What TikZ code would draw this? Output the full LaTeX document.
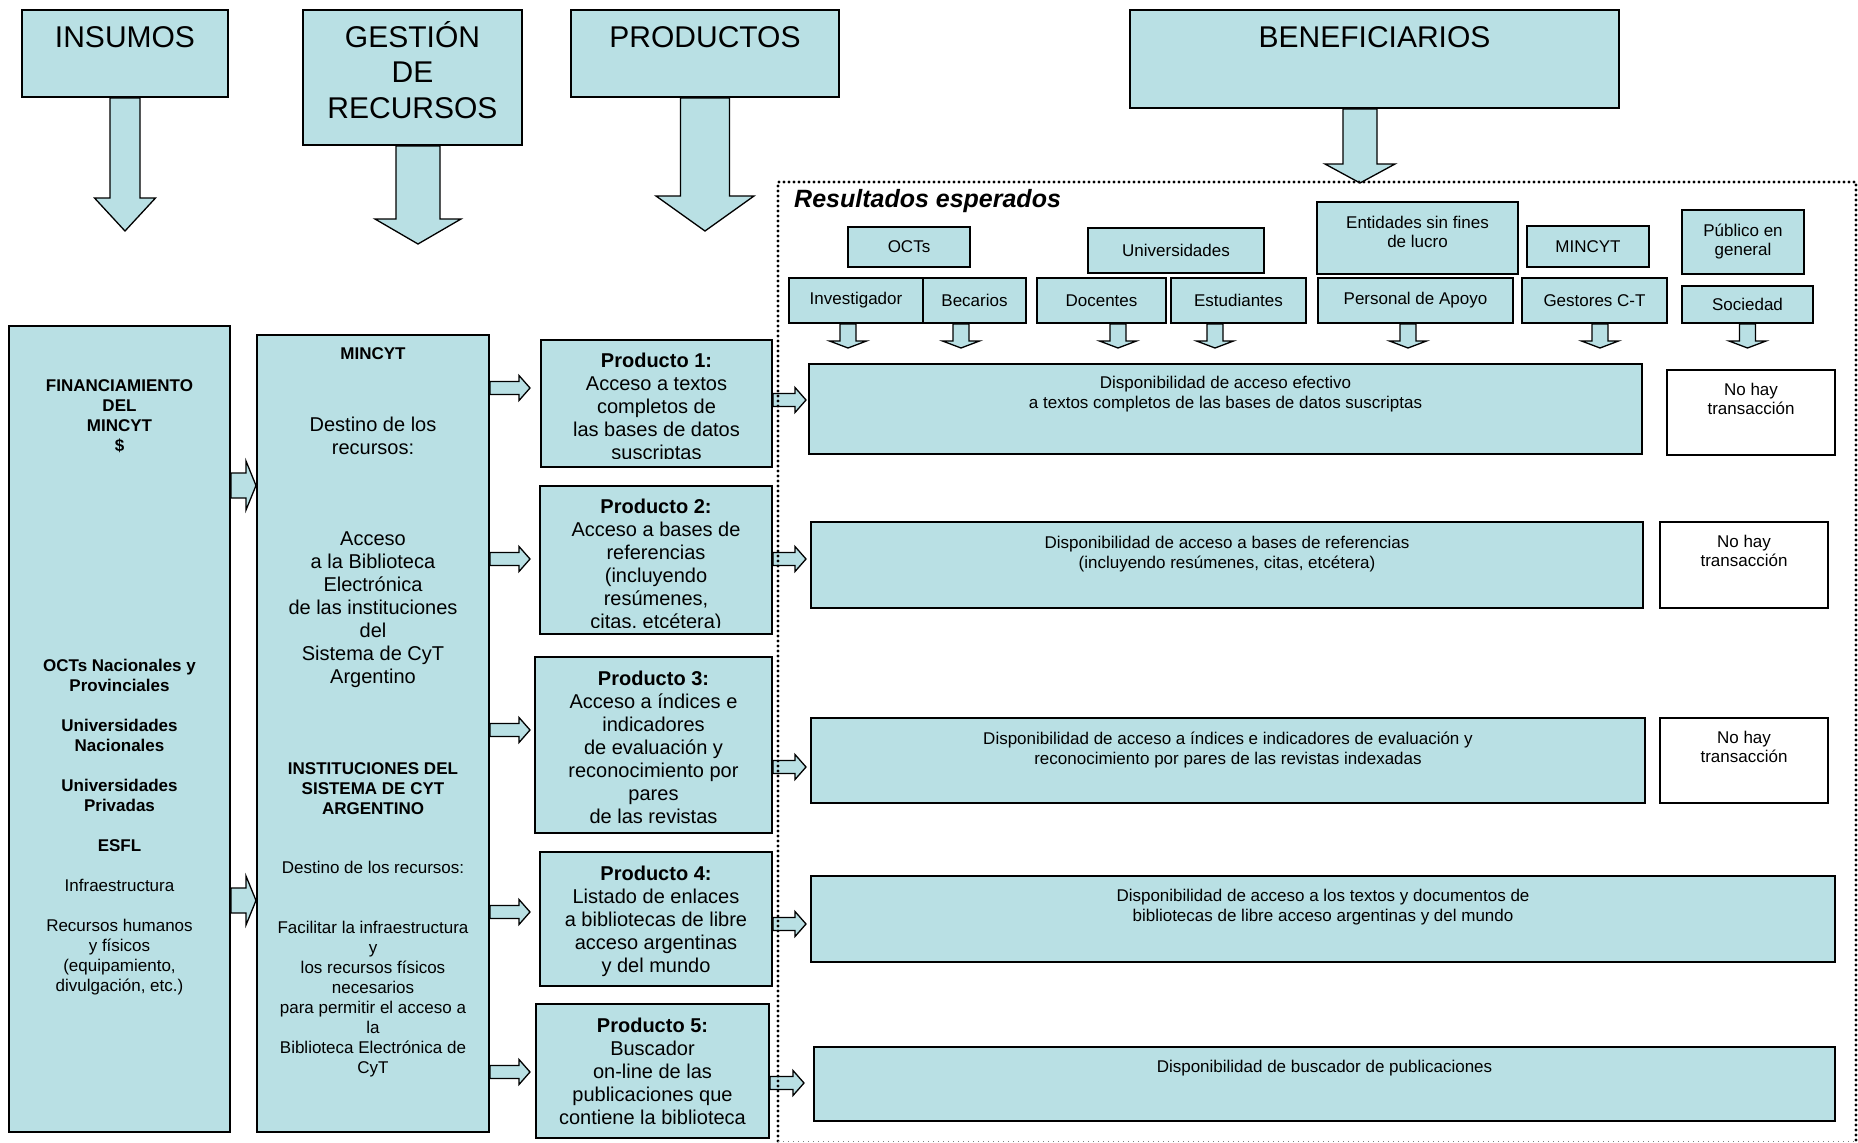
\documentclass[tikz,border=0pt]{standalone}
\usepackage{fontspec}
\setmainfont{Liberation Sans}
\usetikzlibrary{calc,positioning}

\definecolor{boxfill}{RGB}{185,224,228}

\tikzset{
  tealbox/.style={draw, line width=2pt, fill=boxfill, inner sep=0pt},
  whitebox/.style={draw, line width=2pt, fill=white, inner sep=0pt},
  blockarrow/.style={draw, line width=1.3pt, fill=boxfill},
  headtext/.style={font=\fontsize{30}{35.5}\selectfont, align=center, inner sep=0pt},
  bigtext/.style={font=\fontsize{20}{23}\selectfont, align=center, inner sep=0pt},
  smalltext/.style={font=\fontsize{17}{20}\selectfont, align=center, inner sep=0pt},
  boldtext/.style={font=\fontsize{17}{20}\selectfont\bfseries, align=center, inner sep=0pt},
  benef/.style={tealbox, font=\fontsize{17}{19}\selectfont, align=center},
}

%% fat arrows: start, length, half shaft, half head, head length
\newcommand{\downblock}[5]{\filldraw[blockarrow] ($(#1)+(-#3,0)$) -- ++(0,{#2-#5}) -- ++({#3-#4},0) -- ++(#4,#5) -- ++(#4,-#5) -- ++({#3-#4},0) -- ++(0,{#5-#2}) -- cycle;}
\newcommand{\rightblock}[5]{\filldraw[blockarrow] ($(#1)+(0,-#3)$) -- ++({#2-#5},0) -- ++(0,{#3-#4}) -- ++(#5,#4) -- ++(-#5,#4) -- ++(0,{#3-#4}) -- ++({#5-#2},0) -- cycle;}

\begin{document}
\begin{tikzpicture}[x=1pt,y=-1pt]
\useasboundingbox (0,0) rectangle (1858,1143);

%% headers
\node[tealbox, minimum width=206, minimum height=87] (insumos) at (125,53.5) {};
\node[tealbox, minimum width=219, minimum height=135] (gestion) at (412.5,77.5) {};
\node[tealbox, minimum width=268, minimum height=87] (productos) at (705,53.5) {};
\node[tealbox, minimum width=489, minimum height=98] (benefic) at (1374.5,59) {};
\node[headtext, below=17pt of insumos.north] (insumos-t) {INSUMOS};
\node[headtext, below=12pt of gestion.north] (gestion-t) {GESTIÓN\\DE\\RECURSOS};
\node[headtext, below=17pt of productos.north] (productos-t) {PRODUCTOS};
\node[headtext, below=17pt of benefic.north] (benefic-t) {BENEFICIARIOS};

\downblock{insumos.south}{133}{15}{30.5}{33}
\coordinate (g) at ($(gestion.south)+(5.5,0)$);
\downblock{g}{98}{22}{43}{25}
\downblock{productos.south}{133}{24.5}{49}{35}
\coordinate (b) at ($(benefic.south)+(-14.5,0)$);
\downblock{b}{74}{17}{35}{19}

%% insumos
\node[tealbox, minimum width=221, minimum height=806] (fin) at (119.5,729) {};
\node[boldtext, below=54pt of fin.north] (fin-a) {FINANCIAMIENTO\\DEL\\MINCYT\\\$};
\node[smalltext, below=334pt of fin.north] (fin-b) {\textbf{OCTs Nacionales y}\\\textbf{Provinciales}\\[20pt]\textbf{Universidades}\\\textbf{Nacionales}\\[20pt]\textbf{Universidades}\\\textbf{Privadas}\\[20pt]\textbf{ESFL}\\[20pt]Infraestructura\\[20pt]Recursos humanos\\y físicos\\(equipamiento,\\divulgación, etc.)};

%% gestion de recursos
\node[tealbox, minimum width=232, minimum height=797] (dest) at (373,733.5) {};
\node[boldtext, below=13pt of dest.north] (dest-a) {MINCYT};
\node[bigtext, below=83pt of dest.north] (dest-b) {Destino de los\\recursos:};
\node[bigtext, below=198pt of dest.north] (dest-c) {Acceso\\a la Biblioteca\\Electrónica\\de las instituciones\\del\\Sistema de CyT\\Argentino};
\node[boldtext, below=428pt of dest.north] (dest-d) {INSTITUCIONES DEL\\SISTEMA DE CYT\\ARGENTINO};
\node[smalltext, below=527pt of dest.north] (dest-e) {Destino de los recursos:};
\node[smalltext, below=587pt of dest.north] (dest-f) {Facilitar la infraestructura\\y\\ los recursos físicos\\necesarios\\para permitir el acceso a\\la\\Biblioteca Electrónica de\\CyT};

\coordinate (f1) at ($(fin.east)+(0,-243.5)$);
\coordinate (f2) at ($(fin.east)+(0,171.5)$);
\rightblock{f1}{25}{12.5}{24.5}{10}
\rightblock{f2}{25}{12.5}{24.5}{10}

%% productos
\node[tealbox, minimum width=231, minimum height=127] (p1) at (656.5,403.5) {};
\node[tealbox, minimum width=232, minimum height=148] (p2) at (656,560) {};
\node[tealbox, minimum width=237, minimum height=176] (p3) at (653.5,745) {};
\node[tealbox, minimum width=232, minimum height=134] (p4) at (656,919) {};
\node[tealbox, minimum width=233, minimum height=134] (p5) at (652.5,1071) {};
\begin{scope}
\clip (p1.north west) rectangle ($(p1.south east)+(0,-10)$);
\node[bigtext, below=14pt of p1.north] (p1-t) {\textbf{Producto 1:}\\Acceso a textos\\completos de\\las bases de datos\\suscriptas};
\end{scope}
\begin{scope}
\clip (p2.north west) rectangle ($(p2.south east)+(0,-8)$);
\node[bigtext, below=14pt of p2.north] (p2-t) {\textbf{Producto 2:}\\Acceso a bases de\\referencias\\(incluyendo\\resúmenes,\\citas, etcétera)};
\end{scope}
\node[bigtext, below=15pt of p3.north] (p3-t) {\textbf{Producto 3:}\\Acceso a índices e\\indicadores\\de evaluación y\\reconocimiento por\\pares\\de las revistas};
\node[bigtext, below=15pt of p4.north] (p4-t) {\textbf{Producto 4:}\\Listado de enlaces\\a bibliotecas de libre\\acceso argentinas\\y del mundo};
\node[bigtext, below=15pt of p5.north] (p5-t) {\textbf{Producto 5:}\\Buscador\\on-line de las\\publicaciones que\\contiene la biblioteca};

\foreach \p/\dy in {p1/-15.5,p2/-1,p3/-15,p4/-7,p5/1}{
  \coordinate (a) at ($(dest.east |- \p.west)+(0,\dy)$);
  \rightblock{a}{40}{6.5}{12.5}{11}
}

%% resultados esperados
\node[font=\fontsize{25}{29}\selectfont\bfseries\itshape, anchor=base west, inner sep=0pt] (res) at (794,207) {Resultados esperados};

\node[benef, minimum width=122, minimum height=40] (octs) at (909,247) {OCTs};
\node[benef, minimum width=176, minimum height=45] (univ) at (1176,250.5) {Universidades};
\node[tealbox, minimum width=201, minimum height=72] (esl) at (1417.5,238) {};
\node[smalltext, font=\fontsize{17}{18.5}\selectfont, below=15pt of esl.north] (esl-t) {Entidades sin fines\\de lucro};
\node[benef, minimum width=122, minimum height=41] (minc) at (1588,246.5) {MINCYT};
\node[benef, minimum width=122, minimum height=64] (publ) at (1743,242) {Público en\\general};

\node[benef, minimum width=134, minimum height=45] (inv) at (856,300.5) {Investigador};
\node[benef, minimum width=103, minimum height=45] (bec) at (974.5,300.5) {Becarios};
\node[benef, minimum width=129, minimum height=45] (doc) at (1101.5,300.5) {Docentes};
\node[benef, minimum width=135, minimum height=45] (est) at (1238.5,300.5) {Estudiantes};
\node[benef, minimum width=195, minimum height=45] (pers) at (1415.5,300.5) {Personal de Apoyo};
\node[benef, minimum width=145, minimum height=45] (gct) at (1594.5,300.5) {Gestores C-T};
\node[benef, minimum width=131, minimum height=37] (soc) at (1747.5,304.5) {Sociedad};

\foreach \n/\dx in {inv/-8,bec/-13.5,doc/16.5,est/-23.5,pers/-7.5,gct/5.5,soc/0}{
  \coordinate (a) at ($(\n.south)+(\dx,0)$);
  \downblock{a}{24}{8}{18.5}{7}
}

\node[tealbox, minimum width=833, minimum height=90] (o1) at (1225.5,409) {};
\node[tealbox, minimum width=832, minimum height=86] (o2) at (1227,565) {};
\node[tealbox, minimum width=834, minimum height=85] (o3) at (1228,760.5) {};
\node[tealbox, minimum width=1024, minimum height=86] (o4) at (1323,919) {};
\node[tealbox, minimum width=1021, minimum height=74] (o5) at (1324.5,1084) {};
\node[whitebox, minimum width=168, minimum height=85] (n1) at (1751,412.5) {};
\node[whitebox, minimum width=168, minimum height=86] (n2) at (1744,565) {};
\node[whitebox, minimum width=168, minimum height=85] (n3) at (1744,760.5) {};

\node[smalltext, below=13pt of o1.north] (o1-t) {Disponibilidad de acceso efectivo\\a textos completos de las bases de datos suscriptas};
\node[smalltext, below=15pt of o2.north] (o2-t) {Disponibilidad de acceso a bases de referencias\\(incluyendo resúmenes, citas, etcétera)};
\node[smalltext, below=15pt of o3.north] (o3-t) {Disponibilidad de acceso a índices e indicadores de evaluación y\\reconocimiento por pares de las revistas indexadas};
\node[smalltext, below=14pt of o4.north] (o4-t) {Disponibilidad de acceso a los textos y documentos de\\bibliotecas de libre acceso argentinas y del mundo};
\node[smalltext, below=14pt of o5.north] (o5-t) {Disponibilidad de buscador de publicaciones};
\foreach \n in {n1,n2,n3}
  \node[smalltext, font=\fontsize{17}{19}\selectfont, below=14pt of \n.north] {No hay\\transacción};

\foreach \p/\dy/\len in {p1/-3.5/33,p2/-1/33,p3/22/33,p4/5/33,p5/12/34}{
  \coordinate (a) at ($(\p.east)+(0,\dy)$);
  \rightblock{a}{\len}{6.5}{12.5}{11}
}

%% dotted frame
\draw[line width=3.2pt, line cap=round, dash pattern=on 0pt off 5pt] (778,1141) |- (1856,182) -- (1856,1141);
\draw[line width=1pt, gray, dash pattern=on 1pt off 4pt] (778,1141) -- (1856,1141);
\end{tikzpicture}
\end{document}
